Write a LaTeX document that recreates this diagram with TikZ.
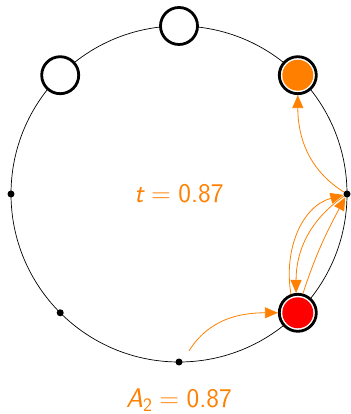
\documentclass[tikz,border=0pt]{standalone}
\usepackage{xcolor}
\usepackage{tikz}
\usetikzlibrary{arrows.meta}
\definecolor{walkOrange}{RGB}{255,128,0}

\begin{document}
\begin{tikzpicture}[x=1pt, y=1pt, >={Triangle[length=13pt,width=11pt]},
    site/.style={circle, draw=black, line width=2.8pt, fill=white, minimum size=37pt, inner sep=0pt},
    taken/.style={site, path picture={\fill[#1] (path picture bounding box.center) circle (15.5pt);}},
    spot/.style={circle, fill=black, minimum size=7pt, inner sep=0pt},
    hop/.style={->, walkOrange, line width=0.8pt},
    lbl/.style={text=walkOrange, font=\fontsize{27}{32}\selectfont\sffamily}]
    \useasboundingbox (0,0) rectangle (350,414);
    \coordinate (c) at (179,220);
    \draw[line width=0.7pt] (c) circle (168);

    % sites on the ring
    \node[spot] (p0) at ([shift={(0:168)}]c) {};
    \node[taken=walkOrange] (p1) at ([shift={(45:168)}]c) {};
    \node[site] (p2) at ([shift={(90:168)}]c) {};
    \node[site] (p3) at ([shift={(135:168)}]c) {};
    \node[spot] (p4) at ([shift={(180:168)}]c) {};
    \node[spot] (p5) at ([shift={(225:168)}]c) {};
    \node[spot] (p6) at ([shift={(270:168)}]c) {};
    \node[taken=red] (p7) at ([shift={(315:168)}]c) {};

    % hops
    \coordinate (s6) at ([shift={(48:15)}]p6);
    \draw[hop] (s6) to[out=58, in=180] (p7);
    \draw[hop] (p7.110) to[out=100, in=195] (p0);
    \draw[hop] (p0) to[out=215, in=90] (p7.95);
    \draw[hop] (p7.75) to[out=72, in=242] (p0);
    \draw[hop] (p0) to[out=148, in=-90] (p1);

    \node[lbl] (time) at (c) {{\itshape t}\;=\;0.87};
    \node[lbl] (area) at (179,14) {{\itshape A}\raisebox{-0.3ex}{\fontsize{19}{22}\selectfont 2}\;=\;0.87};
\end{tikzpicture}
\end{document}
